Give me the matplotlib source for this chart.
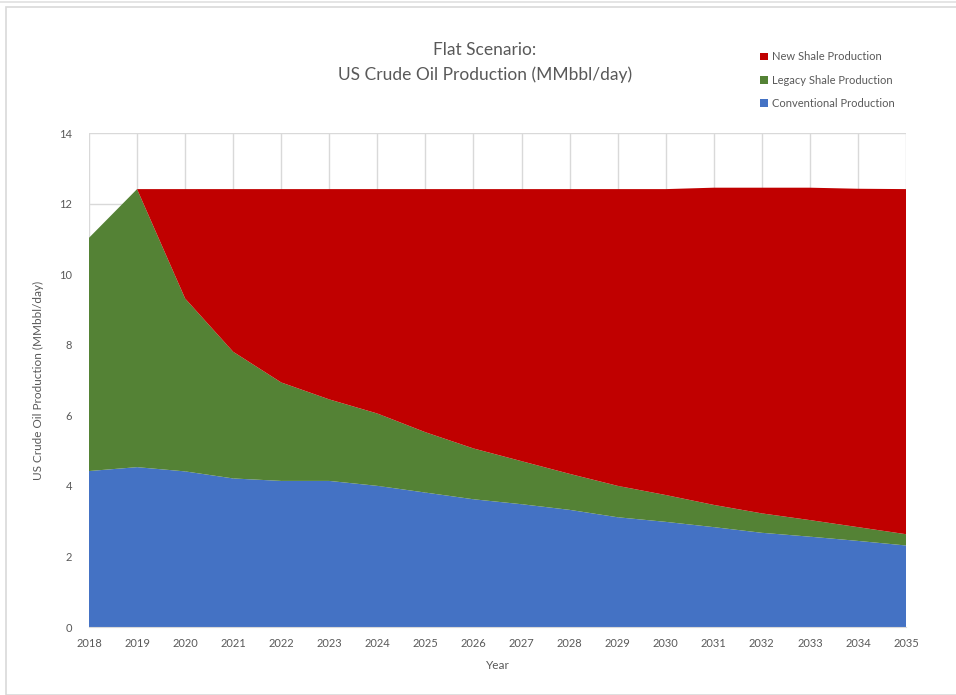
import matplotlib.pyplot as plt
from matplotlib.patches import Rectangle

# Production by source, MMbbl/day
years = list(range(2018, 2036))
conventional = [4.42, 4.53, 4.41, 4.21, 4.14, 4.14, 4.00, 3.81, 3.62,
                3.48, 3.32, 3.11, 2.98, 2.83, 2.67, 2.56, 2.44, 2.31]
legacy_shale = [6.61, 7.88, 4.90, 3.59, 2.79, 2.31, 2.05, 1.71, 1.44,
                1.22, 1.02, 0.89, 0.76, 0.63, 0.55, 0.47, 0.39, 0.32]
new_shale = [0.00, 0.00, 3.10, 4.61, 5.48, 5.96, 6.36, 6.89, 7.35,
             7.71, 8.07, 8.41, 8.67, 8.99, 9.23, 9.42, 9.59, 9.78]

series_names = ['Conventional Production', 'Legacy Shale Production', 'New Shale Production']
series_colors = ['#4472C4', '#548235', '#C00000']

plt.rcParams['font.family'] = ['Lato', 'DejaVu Sans']
text_col = '#595959'
grid_col = '#d9d9d9'

fig = plt.figure(figsize=(9.56, 6.95), dpi=100)

# chart frame
fig.add_artist(Rectangle((6 / 956, 0), 1, 1 - 7 / 695, transform=fig.transFigure,
                         fill=False, edgecolor='#d9d9d9', linewidth=1.2))
fig.add_artist(plt.Line2D([0, 1], [1 - 2 / 695, 1 - 2 / 695], transform=fig.transFigure,
                          color='#e0e0e0', linewidth=1.2))

ax = fig.add_axes([89 / 956, 1 - 627 / 695, (906 - 89) / 956, (627 - 133) / 695])

polys = ax.stackplot(years, conventional, legacy_shale, new_shale,
                     colors=series_colors, labels=series_names, linewidth=0)

ax.set_xlim(2018, 2035)
ax.set_ylim(0, 14)
ax.set_xticks(years)
ax.set_yticks(range(0, 15, 2))
ax.set_axisbelow(True)
ax.grid(True, color=grid_col, linewidth=1)

for side in ['top', 'right', 'left']:
    ax.spines[side].set_visible(False)
ax.spines['bottom'].set_color(grid_col)

ax.tick_params(axis='both', length=0, labelsize=8, labelcolor=text_col, pad=8)
ax.tick_params(axis='y', pad=12)

ax.set_xlabel('Year', fontsize=8.5, color=text_col, labelpad=8)
ax.set_ylabel('US Crude Oil Production (MMbbl/day)', fontsize=8.5, color=text_col, labelpad=11)

fig.text(485 / 956, 1 - 50 / 695, 'Flat Scenario:', ha='center', va='center',
         fontsize=12.5, color=text_col)
fig.text(485 / 956, 1 - 75 / 695, 'US Crude Oil Production (MMbbl/day)', ha='center', va='center',
         fontsize=12.5, color=text_col)

handles, labels = ax.get_legend_handles_labels()
leg = fig.legend(handles[::-1], labels[::-1], loc='upper left',
                 bbox_to_anchor=(756 / 956, 1 - 47 / 695), frameon=False,
                 fontsize=8, handlelength=0.7, handleheight=0.7, handletextpad=0.3,
                 labelspacing=1.1, borderaxespad=0)
for t in leg.get_texts():
    t.set_color(text_col)

fig.savefig('out.png', dpi=100)
